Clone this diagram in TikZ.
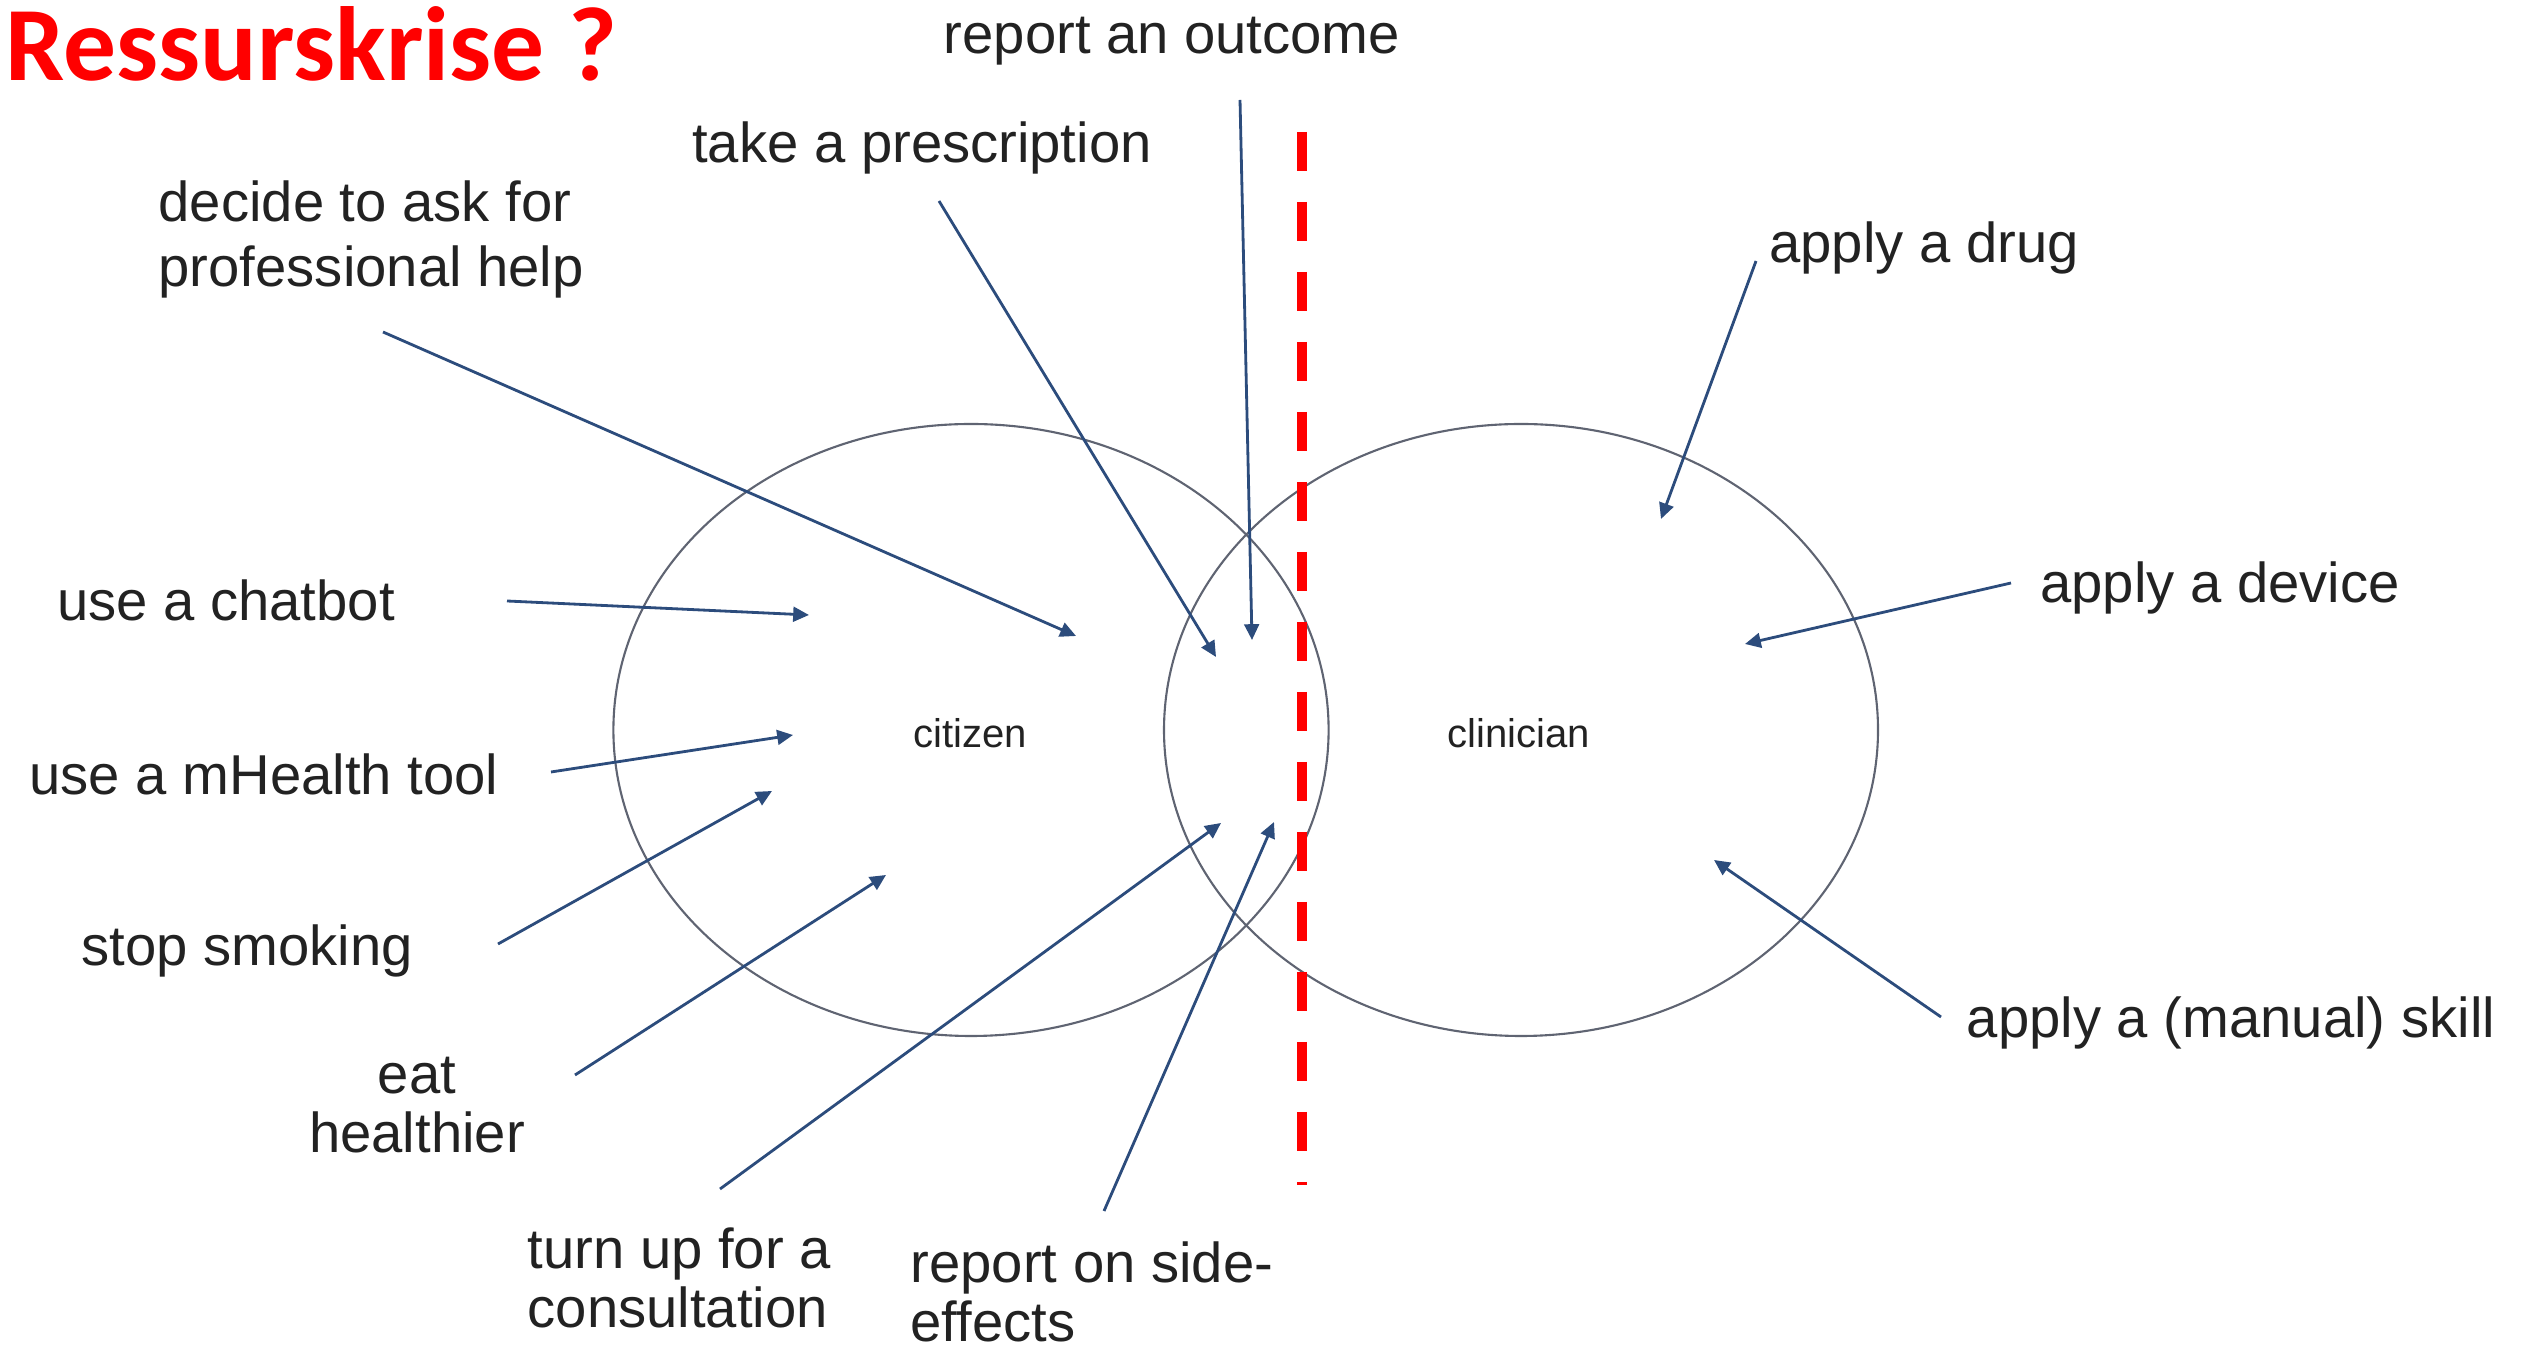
\documentclass[tikz,border=0pt]{standalone}
\usepackage{fontspec}
\setmainfont{Liberation Sans}
\newfontfamily\titlefont{Carlito}
\usetikzlibrary{arrows.meta}
\definecolor{arrowblue}{HTML}{2C4C7C}
\definecolor{ringgray}{HTML}{5F6472}
\definecolor{labelgray}{HTML}{222222}
\tikzset{
	act/.style={text=labelgray, font=\fontsize{16}{17}\selectfont, inner sep=0pt},
	role/.style={text=labelgray, font=\fontsize{11.4}{13}\selectfont, inner sep=0pt},
	pointer/.style={draw=arrowblue, line width=0.8pt, -{Triangle[length=4.5pt,width=4.2pt]}},
	ring/.style={draw=ringgray, line width=0.6pt},
}

\begin{document}
\begin{tikzpicture}
			%%%%% START %%%%%
			\useasboundingbox (0, 0) rectangle (25.26, 13.51);
			
			\node[anchor=base west, text=red, font=\titlefont\bfseries\fontsize{30}{32}\selectfont, inner sep=0pt] (title) at (0.05, 12.70) {Ressurskrise ?};
			
			% the two circles
			\draw[ring] (9.71, 6.21) ellipse (3.576 and 3.06);
			\draw[ring] (15.21, 6.21) ellipse (3.57 and 3.06);
			\node[role] (citizen) at (9.70, 6.18) {citizen};
			\node[role] (clinician) at (15.19, 6.18) {clinician};
			
			% border between the two
			\draw[red, line width=2.9pt, dash pattern=on 0.39cm off 0.31cm] (13.02, 12.19) -- (13.02, 1.66);
			
			% labels
			\node[act, anchor=mid] (outcome) at (11.72, 13.07) {report an outcome};
			\node[act, anchor=mid] (prescription) at (9.22, 11.98) {take a prescription};
			\node[act, anchor=west, align=left, font=\fontsize{16}{18.5}\selectfont] (help) at (1.58, 11.12) {decide to ask for\\professional help};
			\node[act, anchor=mid] (chatbot) at (2.26, 7.40) {use a chatbot};
			\node[act, anchor=mid] (mhealth) at (2.64, 5.66) {use a mHealth tool};
			\node[act, anchor=mid] (smoking) at (2.47, 3.95) {stop smoking};
			\node[act, align=center] (eat) at (4.17, 2.46) {eat\\healthier};
			\node[act, anchor=west, align=left] (consult) at (5.27, 0.73) {turn up for a\\consultation};
			\node[act, anchor=west, align=left] (side) at (9.10, 0.59) {report on side-\\effects};
			\node[act, anchor=mid] (drug) at (19.24, 10.98) {apply a drug};
			\node[act, anchor=mid] (device) at (22.20, 7.58) {apply a device};
			\node[act, anchor=mid] (skill) at (22.31, 3.23) {apply a (manual) skill};
			
			% arrow ends
			\coordinate (outcome-s) at (12.40, 12.51);
			\coordinate (outcome-e) at (12.52, 7.11);
			\coordinate (prescription-s) at (9.39, 11.50);
			\coordinate (prescription-e) at (12.16, 6.94);
			\coordinate (help-s) at (3.83, 10.19);
			\coordinate (help-e) at (10.76, 7.15);
			\coordinate (chatbot-s) at (5.07, 7.50);
			\coordinate (chatbot-e) at (8.09, 7.36);
			\coordinate (mhealth-s) at (5.51, 5.79);
			\coordinate (mhealth-e) at (7.93, 6.16);
			\coordinate (smoking-s) at (4.98, 4.07);
			\coordinate (smoking-e) at (7.72, 5.60);
			\coordinate (eat-s) at (5.75, 2.76);
			\coordinate (eat-e) at (8.86, 4.76);
			\coordinate (consult-s) at (7.20, 1.62);
			\coordinate (consult-e) at (12.21, 5.28);
			\coordinate (side-s) at (11.04, 1.40);
			\coordinate (side-e) at (12.74, 5.29);
			\coordinate (drug-s) at (17.56, 10.90);
			\coordinate (drug-e) at (16.61, 8.32);
			\coordinate (device-s) at (20.11, 7.68);
			\coordinate (device-e) at (17.45, 7.07);
			\coordinate (skill-s) at (19.41, 3.34);
			\coordinate (skill-e) at (17.14, 4.91);
			
			\foreach \n in {outcome, prescription, help, chatbot, mhealth, smoking, eat, consult, side, drug, device, skill}
				\draw[pointer] (\n-s) -- (\n-e);
			
			%%%%% END %%%%%
\end{tikzpicture}
\end{document}
